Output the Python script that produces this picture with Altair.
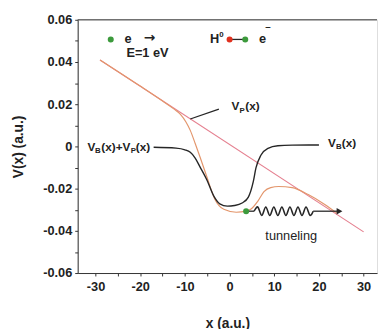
import altair as alt
import pandas as pd

# ---- data (x in a.u., V in a.u.) ----
# straight line V_P(x)
vp_x = [-29.0, 30.0]
vp_y = [0.041, -0.0405]

# black curve V_B(x)
vb_x = [-17.0, -12.0, -10.0, -8.8, -7.7, -6.6, -5.1, -3.5, -2.2, -0.5, 1.1, 2.8,
        4.2, 5.3, 5.9, 7.0, 8.6, 10.8, 14.0, 20.0]
vb_y = [-0.0004, -0.0008, -0.0016, -0.0028, -0.0055, -0.0098, -0.0158, -0.0237,
        -0.0272, -0.0283, -0.0280, -0.0268, -0.0240, -0.0167, -0.0102, -0.0042,
        -0.0009, 0.0003, 0.0006, 0.0007]

# orange curve V_B(x)+V_P(x)
vs_x = [-29.0, -20.0, -15.0, -12.5, -11.0, -9.8, -8.8, -7.7, -6.6, -5.1, -3.3,
        -1.3, 1.5, 3.7, 4.8, 6.3, 7.7, 9.2, 11.0, 14.0, 17.6, 21.3, 24.0]
vs_y = [0.041, 0.0286, 0.0215, 0.0178, 0.0152, 0.0117, 0.0076, 0.0014, -0.0051,
        -0.0144, -0.0250, -0.0298, -0.0312, -0.0307, -0.0297, -0.0260, -0.0214,
        -0.0195, -0.0190, -0.0195, -0.0228, -0.0275, -0.0316]

# tunneling wave
wave_x = [5.5, 6.3, 7.2, 8.1, 9.0, 9.9, 10.8, 11.7, 12.6, 13.5, 14.4, 15.3, 16.2,
          17.1, 18.0, 18.7]
wave_y = [-0.0307, -0.0287, -0.0327, -0.0287, -0.0327, -0.0287, -0.0327, -0.0287,
          -0.0327, -0.0287, -0.0327, -0.0287, -0.0327, -0.0287, -0.0327, -0.0307]

# straight connectors (segment id, x, y)
seg_id = ["a", "a", "b", "b", "c", "c", "d", "d"]
seg_x = [3.7, 5.5, 18.7, 24.3, 0.0, 3.5, -8.8, -2.4]
seg_y = [-0.0307, -0.0307, -0.0307, -0.0307, 0.0507, 0.0507, 0.0130, 0.0177]

# dots
dot_x = [3.7, -26.6, 0.0, 3.5]
dot_y = [-0.0307, 0.0507, 0.0507, 0.0507]
dot_c = ["#3c9a3c", "#3c9a3c", "#e0301e", "#3c9a3c"]

# arrow head
arrow_x = [24.6]
arrow_y = [-0.0307]

# bold labels (pieces so that sub/superscripts can be drawn)
lab_text = ["V", "B", "(x)+V", "P", "(x)",
            "V", "P", "(x)",
            "V", "B", "(x)",
            "E=1 eV", "e", "H", "0", "e", "\u2013"]
lab_x = [-31.8, -30.1, -28.7, -22.1, -21.0,
         0.4, 2.2, 3.5,
         22.0, 23.8, 25.1,
         -23.1, -23.5, -4.4, -2.3, 6.6, 8.0]
lab_y = [-0.0005, -0.0024, -0.0005, -0.0024, -0.0005,
         0.0191, 0.0170, 0.0191,
         0.0014, -0.0005, 0.0014,
         0.0442, 0.0507, 0.0507, 0.0530, 0.0507, 0.0566]
lab_size = [12, 8, 12, 8, 12,
            12, 8, 12,
            12, 8, 12,
            13, 13, 13, 8, 13, 10]

# arrow glyph after the incoming electron
arr_text = ["\u2192"]
arr_x = [-19.2]
arr_y = [0.0512]

# plain label
tun_text = ["tunneling"]
tun_x = [8.0]
tun_y = [-0.0423]

# axis ticks
x_ticks = [-30, -25, -20, -15, -10, -5, 0, 5, 10, 15, 20, 25, 30]
y_ticks = [-0.06, -0.05, -0.04, -0.03, -0.02, -0.01, 0.0, 0.01, 0.02, 0.03, 0.04, 0.05, 0.06]

FONT = "Liberation Sans"
x_scale = alt.Scale(domain=[-34, 33], nice=False, zero=False)
y_scale = alt.Scale(domain=[-0.06, 0.06], nice=False, zero=False)

x_axis = alt.Axis(
    values=x_ticks, title="x (a.u.)", grid=False,
    labelExpr="datum.value % 10 == 0 ? (datum.value < 0 ? '-' + abs(datum.value) : '' + datum.value) : ''",
    tickSize=3, labelPadding=5, titlePadding=23,
    labelFontSize=13, labelFontWeight="bold", titleFontSize=14, titleFontWeight="bold",
    labelFont=FONT, titleFont=FONT, domainColor="#333", tickColor="#333",
    labelColor="#222", titleColor="#222",
)
y_axis = alt.Axis(
    values=y_ticks, title="V(x) (a.u.)", grid=False,
    labelExpr="round(datum.value * 100) % 2 != 0 ? '' : (round(datum.value*100) == 0 ? '0' : (datum.value < 0 ? '-' + format(-datum.value, '.2f') : format(datum.value, '.2f')))",
    tickSize=3, labelPadding=3, titlePadding=18,
    labelFontSize=13, labelFontWeight="bold", titleFontSize=14, titleFontWeight="bold",
    labelFont=FONT, titleFont=FONT, domainColor="#333", tickColor="#333",
    labelColor="#222", titleColor="#222",
)


def X():
    return alt.X("x:Q", scale=x_scale, axis=x_axis)


def Y():
    return alt.Y("y:Q", scale=y_scale, axis=y_axis)


vp = alt.Chart(pd.DataFrame({"x": vp_x, "y": vp_y})).mark_line(
    color="#e58090", strokeWidth=1.2).encode(x=X(), y=Y())
vs = alt.Chart(pd.DataFrame({"x": vs_x, "y": vs_y})).mark_line(
    color="#e3966c", strokeWidth=1.2, interpolate="monotone").encode(x=X(), y=Y())
vb = alt.Chart(pd.DataFrame({"x": vb_x, "y": vb_y})).mark_line(
    color="#262626", strokeWidth=1.4, interpolate="monotone").encode(x=X(), y=Y())
wave = alt.Chart(pd.DataFrame({"x": wave_x, "y": wave_y})).mark_line(
    color="#262626", strokeWidth=1.6, interpolate="cardinal").encode(x=X(), y=Y())
segs = alt.Chart(pd.DataFrame({"s": seg_id, "x": seg_x, "y": seg_y})).mark_line(
    color="#262626", strokeWidth=1.3).encode(x=X(), y=Y(), detail="s:N")
arrow = alt.Chart(pd.DataFrame({"x": arrow_x, "y": arrow_y})).mark_point(
    shape="triangle-right", filled=True, color="#262626", size=45, opacity=1).encode(x=X(), y=Y())
dots = alt.Chart(pd.DataFrame({"x": dot_x, "y": dot_y, "c": dot_c})).mark_circle(
    size=38, opacity=1).encode(x=X(), y=Y(), color=alt.Color("c:N", scale=None))
top = alt.Chart(pd.DataFrame({"x": [-34.0], "x2": [33.0], "y": [0.06]})).mark_rule(
    color="#333", strokeWidth=1).encode(x=X(), x2="x2:Q", y=Y())
labels = alt.Chart(pd.DataFrame({"x": lab_x, "y": lab_y, "t": lab_text, "s": lab_size})).mark_text(
    align="left", baseline="middle", font=FONT, fontWeight="bold", color="#222").encode(
    x=X(), y=Y(), text="t:N", size=alt.Size("s:Q", scale=None))
arr = alt.Chart(pd.DataFrame({"x": arr_x, "y": arr_y, "t": arr_text})).mark_text(
    align="left", baseline="middle", font="DejaVu Sans", fontSize=14, fontWeight="bold",
    color="#222").encode(x=X(), y=Y(), text="t:N")
tun = alt.Chart(pd.DataFrame({"x": tun_x, "y": tun_y, "t": tun_text})).mark_text(
    align="left", baseline="middle", font=FONT, fontSize=13, color="#222").encode(
    x=X(), y=Y(), text="t:N")

chart = alt.layer(top, vp, vs, vb, wave, segs, arrow, dots, labels, arr, tun).properties(
    width=305, height=258,
    padding={"left": 71, "top": 9, "right": 2, "bottom": 54},
    autosize=alt.AutoSizeParams(type="none"),
).configure_view(stroke=None).configure(background="white")

chart.save("out.html", embed_options={"renderer": "svg", "actions": False})
